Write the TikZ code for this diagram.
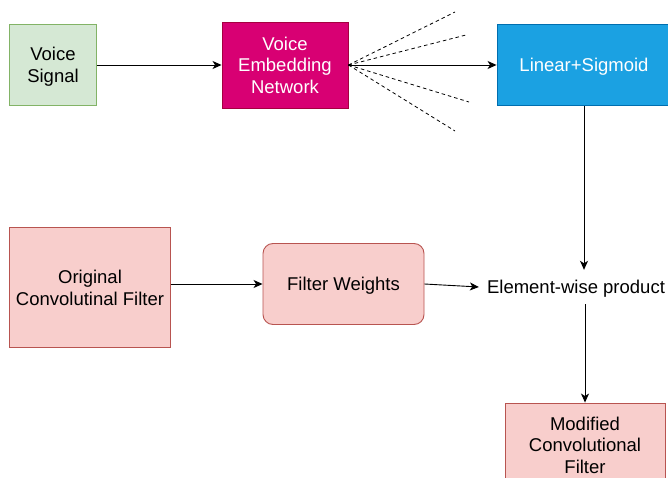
\documentclass[tikz,border=0pt]{standalone}
\usepackage{fontspec}
\setmainfont{Liberation Sans}
\usetikzlibrary{arrows.meta,positioning}
\definecolor{gfill}{HTML}{D5E8D4}
\definecolor{gline}{HTML}{82B366}
\definecolor{mfill}{HTML}{D80073}
\definecolor{mline}{HTML}{A50040}
\definecolor{bfill}{HTML}{1BA1E2}
\definecolor{bline}{HTML}{006EAF}
\definecolor{pfill}{HTML}{F8CECC}
\definecolor{pline}{HTML}{B85450}
\tikzset{
  box/.style={draw, line width=0.9pt, inner sep=0pt, align=center,
    font=\fontsize{18.5}{21.5}\selectfont},
  oneline/.style={text height=13.3pt, text depth=0pt},
  twolines/.style={text height=34.8pt, text depth=0pt},
  threelines/.style={text height=56.3pt, text depth=0pt},
  greenbox/.style={box, fill=gfill, draw=gline},
  magbox/.style={box, fill=mfill, draw=mline, text=white},
  bluebox/.style={box, fill=bfill, draw=bline, text=white},
  pinkbox/.style={box, fill=pfill, draw=pline},
  conn/.style={line width=0.9pt, -{Stealth[length=9pt,width=8pt,inset=2.5pt]}},
  fan/.style={line width=0.8pt, dashed, dash pattern=on 3.5pt off 3pt},
}
\begin{document}
\begin{tikzpicture}[x=1pt,y=-1pt]
\clip (0,0) rectangle (668,478);
\fill[white] (0,0) rectangle (668,478);
\node[greenbox, twolines, minimum width=87pt, minimum height=80.5pt] (vs) at (53,65) {Voice\\Signal};
\node[magbox, threelines, minimum width=126pt, minimum height=86pt] (ven) at (285,65) {Voice\\Embedding\\Network};
\node[bluebox, oneline, minimum width=174pt, minimum height=81pt] (lin) at (584,65) {Linear+Sigmoid};
\node[pinkbox, twolines, minimum width=160.5pt, minimum height=120pt] (ocf) at (90,287.6) {Original\\Convolutinal Filter};
\node[pinkbox, oneline, rounded corners=10pt, minimum width=161pt, minimum height=81pt] (fw) at (343.5,284) {Filter Weights};
\node[oneline, inner xsep=8pt, inner ysep=0pt, minimum height=34pt, font=\fontsize{18.5}{21.5}\selectfont] (ewp) at (576,287) {Element-wise product};
\node[pinkbox, threelines, minimum width=160pt, minimum height=84pt] (mcf) at (585,445) {Modified\\Convolutional\\Filter};

\coordinate (f1) at (455,12);
\coordinate (f2) at (466,35);
\coordinate (f3) at (469,102);
\coordinate (f4) at (455,131);
\foreach \c in {f1,f2,f3,f4} \draw[fan] (ven.east) -- (\c);

\draw[conn] (vs) -- (ven);
\draw[conn] (ven) -- (lin);
\draw[conn] (lin.south) -- (lin.south |- ewp.north);
\draw[conn] (ocf.east |- fw.west) -- (fw.west);
\draw[conn] (fw.east) -- (ewp.west);
\draw[conn] (mcf.north |- ewp.south) -- (mcf.north);
\end{tikzpicture}
\end{document}
